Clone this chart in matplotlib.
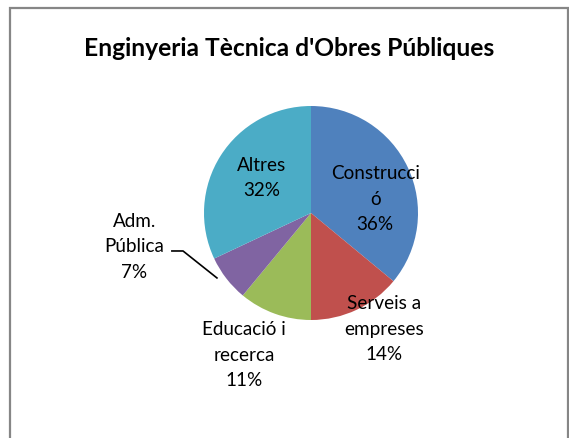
import matplotlib
matplotlib.use('Agg')
from matplotlib import pyplot as plt
from matplotlib.patches import Rectangle

# data
categories = ['Construcci\nó', 'Serveis a\nempreses', 'Educació i\nrecerca', 'Adm.\nPública', 'Altres']
values = [36, 14, 11, 7, 32]
colors = ['#4F81BD', '#C0504D', '#9BBB59', '#8064A2', '#4BACC6']
title = "Enginyeria Tècnica d'Obres Públiques"

# label centres in pie units (radius = 1)
label_pos = [(0.60, 0.14), (0.68, -1.075), (-0.626, -1.318), (-1.65, -0.308), (-0.458, 0.336)]

W, H = 569, 439
plt.rcParams['font.family'] = ['Lato', 'DejaVu Sans']

fig = plt.figure(figsize=(W / 100, H / 100), dpi=100)
fig.patch.set_facecolor('white')

# chart border (bottom is cut off in the reference)
fig.patches.append(Rectangle((9.5 / W, -0.05), (567.5 - 9.5) / W, 1.05 - 8.5 / H,
                             transform=fig.transFigure, fill=False,
                             edgecolor='#868686', linewidth=1.6))

fig.text(289 / W, 1 - 48 / H, title, ha='center', va='center',
         fontsize=17.7, fontweight='bold')

cx, cy, r = 311, 214, 107
ax = fig.add_axes([(cx - r) / W, (H - cy - r) / H, 2 * r / W, 2 * r / H])
ax.pie(values, colors=colors, startangle=90, counterclock=False, radius=1,
       wedgeprops=dict(linewidth=0))
ax.set_xlim(-1, 1)
ax.set_ylim(-1, 1)
ax.set_aspect('equal')
ax.axis('off')

for cat, val, (lx, ly) in zip(categories, values, label_pos):
    ax.text(lx, ly, f'{cat}\n{val}%', ha='center', va='center', fontsize=13.6,
            linespacing=1.62, clip_on=False)

# leader line for the small slice
ax.plot([-1.30, -1.196, -0.879], [-0.355, -0.355, -0.607], color='black',
        linewidth=1.2, clip_on=False)

fig.savefig('out.png', dpi=100)
